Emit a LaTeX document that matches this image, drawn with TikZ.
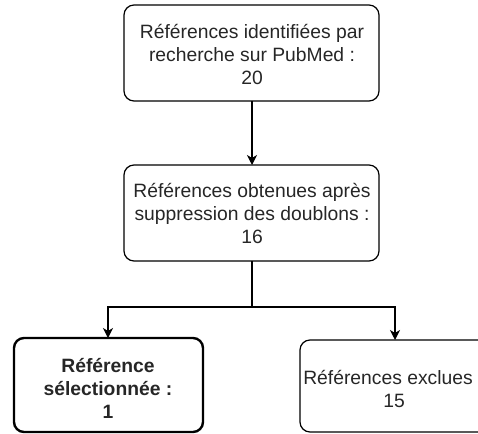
\documentclass[tikz,border=0pt]{standalone}
\usepackage{fontspec}
\setmainfont{Liberation Sans}
\usetikzlibrary{arrows.meta}
\begin{document}
\begin{tikzpicture}[x=1bp,y=-1bp,
  box/.style={draw=black,line width=1.2bp,rounded corners=10bp},
  boldbox/.style={draw=black,line width=2.4bp,rounded corners=10bp},
  txt/.style={align=center,font=\fontsize{19.3bp}{23bp}\selectfont,text=black!85,inner sep=0pt},
  conn/.style={draw=black,line width=1.3bp},
  arr/.style={conn,-{Stealth[length=10bp,width=10bp,inset=3bp]}}]
\useasboundingbox (0,0) rectangle (478,434);
\clip (0,0) rectangle (478,434);
\draw[box] (124,5) rectangle (379,101);
\node[txt] (a) at (252,54) {Références identifiées par\\recherche sur PubMed :\\20};
\coordinate (aB) at (252,101);
\draw[box] (124,165) rectangle (379,261);
\node[txt] (b) at (252,213) {Références obtenues après\\suppression des doublons :\\16};
\coordinate (bT) at (252,165);
\coordinate (bB) at (252,261);
\coordinate (j) at (252,307);
\coordinate (jl) at (108,307);
\coordinate (jr) at (395,307);
\draw[boldbox] (14,338) rectangle (203,432);
\node[txt,font=\bfseries\fontsize{19.3bp}{23bp}\selectfont] (c) at (108,388) {Référence\\sélectionnée :\\1};
\coordinate (cT) at (108,338);
\draw[box] (300,340) rectangle (490,432);
\node[txt] (d) at (388,389) {Références exclues\\\hspace*{12bp}15};
\coordinate (dT) at (395,340);
\draw[arr] (aB) -- (bT);
\draw[conn] (bB) -- (j);
\draw[arr] (j) -- (jl) -- (cT);
\draw[arr] (j) -- (jr) -- (dT);
\end{tikzpicture}
\end{document}
